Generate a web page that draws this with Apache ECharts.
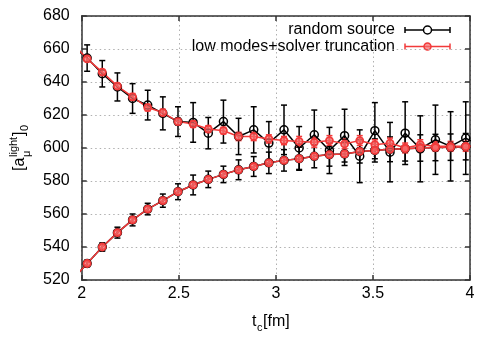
<!DOCTYPE html>
<html>
<head>
<meta charset="utf-8">
<script src="https://cdn.jsdelivr.net/npm/echarts@6/dist/echarts.min.js"></script>
<style>
html, body { margin: 0; padding: 0; background: #fff; }
#chart { width: 500px; height: 350px; }
</style>
</head>
<body>
<div id="chart"></div>
<script>
// t_c values (fm) of the measured points
var tc = [1.950, 2.028, 2.106, 2.184, 2.262, 2.340, 2.418, 2.496, 2.574, 2.652,
          2.730, 2.808, 2.886, 2.964, 3.042, 3.120, 3.198, 3.276, 3.354, 3.432,
          3.510, 3.588, 3.666, 3.744, 3.822, 3.900, 3.978, 4.056];

// random source: upper and lower branches
var srcUpper    = [662, 654.5, 645, 637, 630, 626, 621, 616, 615.5, 609,
                   616, 607, 611, 603, 611, 600, 608, 598.5, 607.5, 595,
                   610.5, 597.5, 609, 599.5, 605, 601, 606, 601];
var srcUpperErr = [8, 8, 8, 8.5, 9, 9, 10, 9, 12, 9.5,
                   13, 11, 14, 13, 15, 13, 15, 14, 16, 16,
                   17, 18, 19, 20, 21, 21, 22, 22];
var srcLower    = [520, 530, 540, 548.7, 556.4, 563, 568.1, 573.5, 577.6, 581,
                   584, 586.8, 588.8, 591, 592.5, 593.5, 595, 596, 596.4, 597.9,
                   598.5, 599.2, 599.6, 600, 600.3, 600.5, 600.8, 601];
var srcLowerErr = [2, 2, 2.5, 3.3, 3.6, 3.5, 4, 4.8, 6, 5,
                   5, 6, 6, 6.5, 6.5, 7, 7, 7, 7, 7,
                   7, 7.5, 7.5, 8, 8, 8, 8, 8];

// low modes + solver truncation: upper and lower branches
var lmUpper    = [664, 654, 646, 637.5, 631, 624.5, 621.5, 616, 614.5, 611.5,
                  610.5, 607, 607, 605.5, 604.5, 604, 603.5, 604.5, 602.5, 604.5,
                  602, 603, 600, 602, 601, 601, 601, 601];
var lmUpperErr = [1.5, 1.5, 1.5, 1.5, 2, 2, 2, 2, 2, 2,
                  2, 2.5, 2.5, 2.5, 2.5, 3, 3, 3, 3, 3,
                  3, 3, 3, 3, 3, 3, 3, 3];
var lmLower    = [520, 530, 540, 548.7, 556.4, 563, 568.1, 573.5, 577.6, 581,
                  584, 586.8, 588.8, 591, 592.5, 593.5, 595, 596, 596.4, 597.9,
                  598.5, 599.2, 599.6, 600, 600.3, 600.5, 600.8, 601];
var lmLowerErr = [1, 1, 1, 1.2, 1.2, 1.3, 1.3, 1.5, 1.5, 1.5,
                  1.5, 1.5, 1.5, 1.5, 1.5, 1.5, 1.5, 1.5, 1.5, 1.5,
                  1.5, 1.5, 1.5, 1.5, 1.5, 1.5, 1.5, 1.5];

var seriesNames = ['random source', 'low modes+solver truncation'];
var xRange = [2, 4, 0.5];
var yRange = [520, 680, 20];

var BLACK = '#000';
var RED = '#f23a3a';
var FONT = 'Liberation Sans, Arial, sans-serif';

function pts(v) {
	return tc.map(function(t, i) { return [t, v[i]]; });
}
function errPts(v, e) {
	return tc.map(function(t, i) { return [t, v[i], e[i]]; });
}

// error bar with caps
function errBar(color) {
	return function(params, api) {
		var x = api.value(0), y = api.value(1), e = api.value(2);
		var p1 = api.coord([x, y + e]);
		var p2 = api.coord([x, y - e]);
		var c = 3;
		var st = { stroke: color, lineWidth: 1.5 };
		return {
			type: 'group',
			children: [
				{ type: 'line', shape: { x1: p1[0], y1: p1[1], x2: p2[0], y2: p2[1] }, style: st },
				{ type: 'line', shape: { x1: p1[0] - c, y1: p1[1], x2: p1[0] + c, y2: p1[1] }, style: st },
				{ type: 'line', shape: { x1: p2[0] - c, y1: p2[1], x2: p2[0] + c, y2: p2[1] }, style: st }
			]
		};
	};
}

function errSeries(v, e, color) {
	return {
		type: 'custom',
		renderItem: errBar(color),
		data: errPts(v, e),
		encode: { x: 0, y: 1 },
		clip: true,
		silent: true,
		animation: false
	};
}

function lineSeries(name, v, color, fill, bw, size) {
	return {
		name: name,
		type: 'line',
		data: pts(v),
		symbol: 'circle',
		symbolSize: size,
		showAllSymbol: true,
		clip: true,
		lineStyle: { color: color, width: 1.5 },
		itemStyle: { color: fill, borderColor: color, borderWidth: bw },
		silent: true,
		animation: false
	};
}

var axisLineStyle = { color: '#333', width: 1.5 };
var gridLine = { show: true, lineStyle: { color: '#b0b0b0', width: 1, type: [1.5, 3] } };

var chart = echarts.init(document.getElementById('chart'));

// legend drawn by hand (text then error-bar sample)
var legendGraphics = [];
[BLACK, RED].forEach(function(col, i) {
	var y = 30 + i * 16.5;
	var fill = i === 0 ? '#fff' : 'rgba(245,110,110,0.7)';
	legendGraphics.push(
		{ type: 'text', x: 395, y: y, style: { text: seriesNames[i], font: '16px ' + FONT, fill: '#000', align: 'right', verticalAlign: 'middle' } },
		{ type: 'line', shape: { x1: 405, y1: y, x2: 450, y2: y }, style: { stroke: col, lineWidth: 1.5 } },
		{ type: 'line', shape: { x1: 405, y1: y - 3, x2: 405, y2: y + 3 }, style: { stroke: col, lineWidth: 1.5 } },
		{ type: 'line', shape: { x1: 450, y1: y - 3, x2: 450, y2: y + 3 }, style: { stroke: col, lineWidth: 1.5 } },
		{ type: 'circle', shape: { cx: 427.5, cy: y, r: i === 0 ? 4 : 3.5 }, style: { stroke: col, fill: fill, lineWidth: 1.5 } }
	);
});

var option = {
	backgroundColor: '#fff',
	animation: false,
	grid: { left: 81.7, right: 30, top: 16, bottom: 70, outerBoundsMode: 'none' },
	xAxis: [{
		type: 'value', min: xRange[0], max: xRange[1], interval: xRange[2],
		axisLine: { show: true, lineStyle: axisLineStyle },
		axisTick: { show: true, inside: true, length: 5, lineStyle: axisLineStyle },
		axisLabel: { color: '#000', fontSize: 16, fontFamily: FONT, margin: 6 },
		splitLine: gridLine
	}, {
		type: 'value', position: 'top', min: xRange[0], max: xRange[1], interval: xRange[2],
		axisLine: { show: true, lineStyle: axisLineStyle },
		axisTick: { show: true, inside: true, length: 5, lineStyle: axisLineStyle },
		axisLabel: { show: false },
		splitLine: { show: false }
	}],
	yAxis: [{
		type: 'value', min: yRange[0], max: yRange[1], interval: yRange[2],
		axisLine: { show: true, lineStyle: axisLineStyle },
		axisTick: { show: true, inside: true, length: 5, lineStyle: axisLineStyle },
		axisLabel: { color: '#000', fontSize: 16, fontFamily: FONT, margin: 12 },
		splitLine: gridLine
	}, {
		type: 'value', position: 'right', min: yRange[0], max: yRange[1], interval: yRange[2],
		axisLine: { show: true, lineStyle: axisLineStyle },
		axisTick: { show: true, inside: true, length: 5, lineStyle: axisLineStyle },
		axisLabel: { show: false },
		splitLine: { show: false }
	}],
	series: [
		errSeries(srcUpper, srcUpperErr, BLACK),
		errSeries(srcLower, srcLowerErr, BLACK),
		lineSeries(seriesNames[0], srcUpper, BLACK, 'rgba(255,255,255,0)', 1.5, 8),
		lineSeries(seriesNames[0], srcLower, BLACK, 'rgba(255,255,255,0)', 1.5, 8),
		errSeries(lmUpper, lmUpperErr, RED),
		errSeries(lmLower, lmLowerErr, RED),
		lineSeries(seriesNames[1], lmUpper, RED, 'rgba(245,110,110,0.7)', 1.8, 7),
		lineSeries(seriesNames[1], lmLower, RED, 'rgba(245,110,110,0.7)', 1.8, 7)
	],
	graphic: legendGraphics.concat([
		// y axis title  [a_mu^light]_0 , rotated
		{
			type: 'group', x: 20, y: 171, rotation: Math.PI / 2,
			children: [
				{ type: 'text', x: 0, y: 0, style: { text: '[a', font: '16px ' + FONT, fill: '#000', verticalAlign: 'middle' } },
				{ type: 'text', x: 14, y: -6, style: { text: 'light', font: '11px ' + FONT, fill: '#000', verticalAlign: 'middle' } },
				{ type: 'text', x: 14, y: 7, style: { text: 'μ', font: '11px ' + FONT, fill: '#000', verticalAlign: 'middle' } },
				{ type: 'text', x: 35, y: 0, style: { text: ']', font: '16px ' + FONT, fill: '#000', verticalAlign: 'middle' } },
				{ type: 'text', x: 40, y: 5, style: { text: '0', font: '11px ' + FONT, fill: '#000', verticalAlign: 'middle' } }
			]
		},
		// x axis title  t_c[fm]
		{
			type: 'group', x: 252, y: 322,
			children: [
				{ type: 'text', x: 0, y: 0, style: { text: 't', font: '16px ' + FONT, fill: '#000', verticalAlign: 'middle' } },
				{ type: 'text', x: 5, y: 6, style: { text: 'c', font: '11px ' + FONT, fill: '#000', verticalAlign: 'middle' } },
				{ type: 'text', x: 11, y: 0, style: { text: '[fm]', font: '16px ' + FONT, fill: '#000', verticalAlign: 'middle' } }
			]
		}
	])
};

chart.setOption(option);
</script>
</body>
</html>
